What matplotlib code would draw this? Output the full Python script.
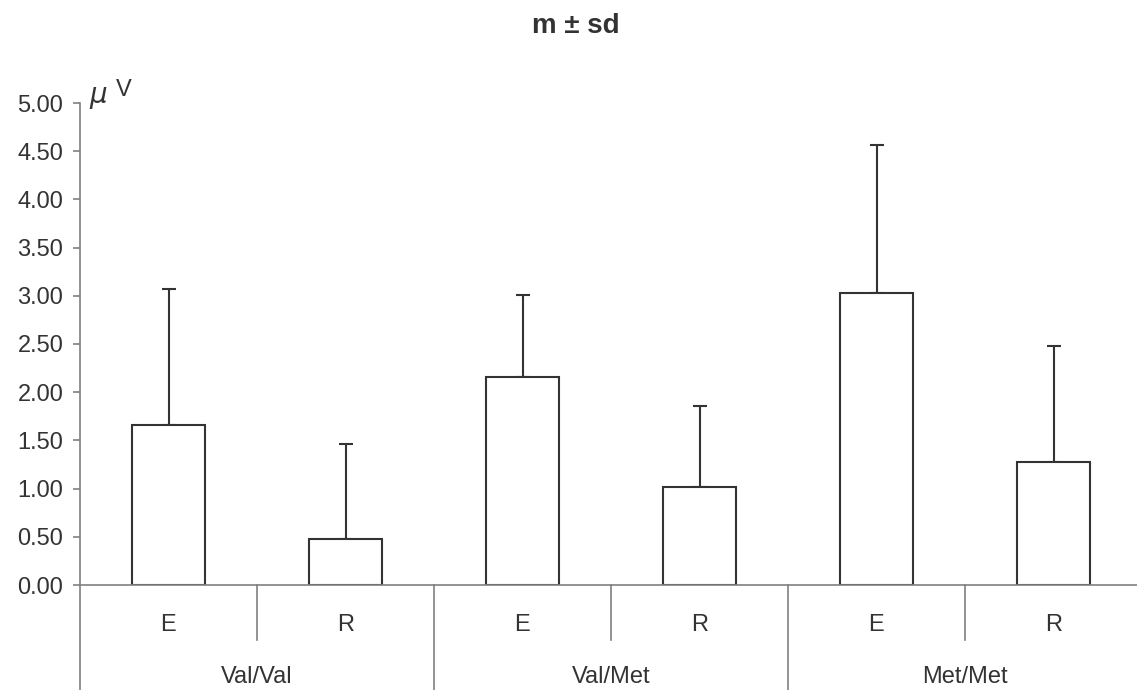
import numpy as np
import matplotlib.pyplot as plt
from matplotlib.transforms import blended_transform_factory

# data
groups=['Val/Val','Val/Met','Met/Met']
conditions=['E','R']
means=[1.66,0.48,2.16,1.02,3.03,1.28]
sds=[1.41,0.98,0.85,0.84,1.53,1.20]
yticks=[0.0,0.5,1.0,1.5,2.0,2.5,3.0,3.5,4.0,4.5,5.0]

plt.rcParams['font.family']=['Liberation Sans','DejaVu Sans']
text_col='#333333'
line_col='#808080'

fig=plt.figure(figsize=(11.37,6.9),dpi=100)
ax=fig.add_axes([80/1137,105/690,1062/1137,482/690])

x=np.arange(len(means))+0.5
ax.bar(x,means,width=0.41,facecolor='white',edgecolor='#333333',linewidth=1.5,zorder=2)
ax.errorbar(x,means,yerr=[np.zeros(len(sds)),sds],fmt='none',ecolor='#333333',
            elinewidth=1.5,capsize=5,capthick=1.5,zorder=1)

ax.set_xlim(0,6)
ax.set_ylim(0,5)
ax.set_yticks(yticks)
ax.set_yticklabels(['%.2f'%v for v in yticks],fontsize=17,color=text_col)
ax.tick_params(axis='y',length=5,width=1.2,color=line_col,pad=7)
ax.set_xticks([])
for s in ['top','right']:
    ax.spines[s].set_visible(False)
ax.spines['left'].set_color(line_col)
ax.spines['bottom'].set_color(line_col)
ax.spines['left'].set_linewidth(1.2)
ax.spines['bottom'].set_linewidth(1.2)

tr=blended_transform_factory(ax.transData,ax.transAxes)
# two-level category axis
for i in range(len(means)):
    ax.text(x[i],-0.083,conditions[i%2],transform=tr,ha='center',va='center',fontsize=17,color=text_col)
for g in range(len(groups)):
    ax.text(2*g+1,-0.19,groups[g],transform=tr,ha='center',va='center',fontsize=17,color=text_col)
    ax.plot([2*g+1,2*g+1],[0,-0.114],transform=tr,color=line_col,lw=1.2,clip_on=False)
    ax.plot([2*g,2*g],[0,-0.25],transform=tr,color=line_col,lw=1.2,clip_on=False)
ax.plot([6,6],[0,-0.25],transform=tr,color=line_col,lw=1.2,clip_on=False)

fig.text(89/1137,1-103/690,r'$\mu$',fontsize=20,color=text_col,ha='left',va='baseline')
fig.text(116/1137,1-96/690,'V',fontsize=17,color=text_col,ha='left',va='baseline')

fig.text(576/1137,1-33/690,'m ± sd',ha='center',va='baseline',fontsize=20,fontweight='bold',color=text_col)

fig.savefig('out.png',dpi=100)
